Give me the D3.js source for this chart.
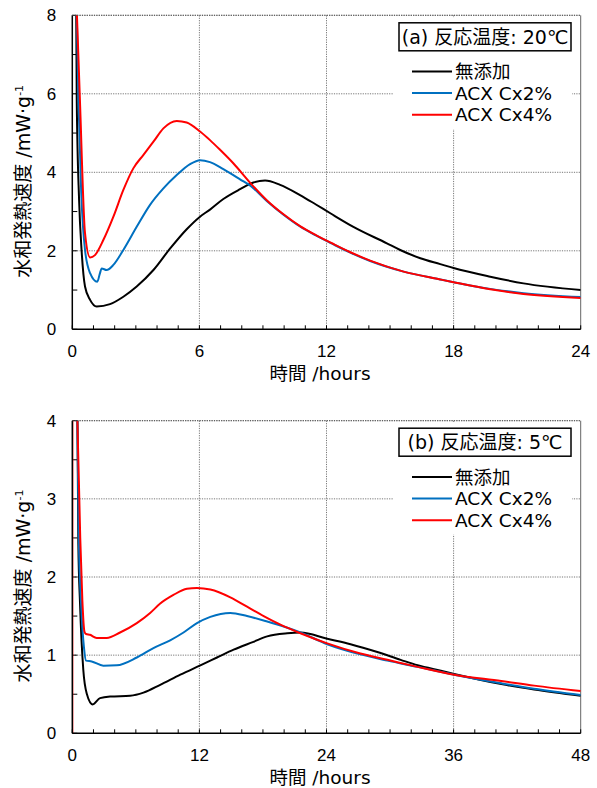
<!DOCTYPE html>
<html lang="ja">
<head>
<meta charset="UTF-8">
<title>水和発熱速度</title>
<script src="https://cdn.jsdelivr.net/npm/d3@7"></script>
<style>
  body { margin:0; background:#fff; }
  text { font-family: "DejaVu Sans", "Noto Sans CJK JP", sans-serif; fill:#000; }
  text.num { font-family: "Liberation Sans", sans-serif; font-size:17px; }
  .grid { stroke:#777; stroke-width:1; stroke-dasharray:1.2,1.2; fill:none; }
  .tick { stroke:#000; stroke-width:1; }
  path.series { fill:none; stroke-width:2; stroke-linejoin:round; }
</style>
</head>
<body>
<script>
// series names and colours
var seriesNames = ["無添加", "ACX Cx2%", "ACX Cx4%"];
var seriesColors = ["#000000", "#0070C0", "#FF0000"];

// tick labels
var aXTicks = [0, 6, 12, 18, 24];
var aYTicks = [0, 2, 4, 6, 8];
var bXTicks = [0, 12, 24, 36, 48];
var bYTicks = [0, 1, 2, 3, 4];

// (a) 20℃  [hours, mW/g]
var aNone = [[0.18,8.6],[0.21,5.84],[0.32,3.3],[0.44,2.0],[0.6,1.09],[0.84,0.75],[1.15,0.58],[1.78,0.64],[2.41,0.83],[3.04,1.09],[3.83,1.51],[4.62,2.06],[5.4,2.55],[6.03,2.87],[6.5,3.05],[7.13,3.32],[7.92,3.57],[8.55,3.74],[9.1,3.79],[9.81,3.68],[10.75,3.42],[11.5,3.18],[12.2,2.95],[13.27,2.61],[14.85,2.19],[15.48,2.02],[16.43,1.81],[17.37,1.66],[18,1.56],[19.73,1.34],[21.3,1.17],[24,1.0]];
var aCx2 = [[0.19,8.6],[0.29,5.84],[0.42,3.5],[0.6,2.02],[0.84,1.43],[1.18,1.21],[1.3,1.42],[1.39,1.55],[1.62,1.51],[1.94,1.64],[2.41,2.02],[3.04,2.61],[3.67,3.17],[4.3,3.59],[4.93,3.93],[5.56,4.21],[6.03,4.31],[6.5,4.26],[7.13,4.08],[7.92,3.82],[8.45,3.64],[9.18,3.27],[9.97,2.92],[10.75,2.62],[11.5,2.39],[12.3,2.17],[13.1,1.96],[14.06,1.74],[15.64,1.47],[17.37,1.27],[18,1.2],[19.73,1.03],[21.3,0.92],[24,0.82]];
var aCx4 = [[0.18,8.6],[0.36,5.84],[0.6,2.45],[0.84,1.83],[1.07,1.89],[1.47,2.28],[1.94,2.87],[2.41,3.55],[2.88,4.1],[3.35,4.44],[3.83,4.78],[4.3,5.12],[4.93,5.31],[5.4,5.27],[6.03,5.04],[6.5,4.82],[6.98,4.57],[7.6,4.23],[8.45,3.7],[9.18,3.29],[9.97,2.93],[10.75,2.63],[11.5,2.4],[12.3,2.18],[13.1,1.97],[14.06,1.75],[15.64,1.47],[17.37,1.27],[18,1.2],[19.73,1.02],[21.3,0.9],[24,0.8]];

// (b) 5℃  [hours, mW/g]
var bNone = [[0.47,4.3],[0.57,2.43],[0.73,1.66],[1.04,0.81],[1.36,0.51],[1.93,0.37],[2.62,0.45],[3.57,0.47],[5.46,0.48],[6.72,0.52],[8.3,0.62],[10.2,0.75],[12.09,0.87],[13.66,0.97],[15.23,1.07],[17.1,1.17],[18.4,1.24],[20.3,1.28],[21.54,1.29],[24.07,1.21],[26.27,1.14],[28.8,1.04],[31.0,0.94],[32.6,0.87],[34.8,0.8],[36.05,0.76],[40.5,0.63],[43.6,0.56],[48,0.48]];
var bCx2 = [[0.45,4.3],[0.6,2.6],[0.85,1.6],[1.1,1.1],[1.3,0.93],[1.83,0.92],[2.93,0.865],[4.2,0.87],[6.09,0.97],[7.66,1.09],[9.24,1.19],[10.5,1.29],[11.77,1.41],[13.03,1.49],[14.92,1.54],[16.5,1.5],[18.4,1.43],[20.3,1.35],[21.54,1.29],[24.07,1.14],[27.2,1.01],[29.75,0.93],[32.6,0.85],[36.05,0.75],[40.5,0.64],[43.6,0.57],[48,0.49]];
var bCx4 = [[0,0],[0.01,5],[0.47,4.05],[0.75,2.5],[0.95,1.7],[1.15,1.3],[1.3,1.27],[1.67,1.26],[2.3,1.22],[3.25,1.22],[4.51,1.29],[6.09,1.41],[7.35,1.54],[8.3,1.66],[9.55,1.77],[10.82,1.85],[11.77,1.86],[13.03,1.84],[14.92,1.74],[16.5,1.62],[18.07,1.5],[19.65,1.39],[21.54,1.28],[24.07,1.15],[27.2,1.02],[29.75,0.94],[32.6,0.85],[36.05,0.75],[40.5,0.67],[43.6,0.61],[48,0.54]];

var W = 597, H = 788;
var svg = d3.select("body").append("svg").attr("width", W).attr("height", H);

var panels = [
  {id:"a", top:15.3, bottom:329.3, xTicks:aXTicks, xMinor:1, yTicks:aYTicks, yMinor:1,
   series:[aNone, aCx2, aCx4], title:"(a) 反応温度: 20℃", legY:71.5},
  {id:"b", top:420.7, bottom:733.3, xTicks:bXTicks, xMinor:2, yTicks:bYTicks, yMinor:0.5,
   series:[bNone, bCx2, bCx4], title:"(b) 反応温度: 5℃", legY:477}
];

var left = 72.3, right = 580.7;

panels.forEach(function(p){
  var xMax = d3.max(p.xTicks), yMax = d3.max(p.yTicks);
  var x = d3.scaleLinear().domain([0, xMax]).range([left, right]);
  var y = d3.scaleLinear().domain([0, yMax]).range([p.bottom, p.top]);
  var g = svg.append("g");

  // grid
  g.selectAll(".gx").data(p.xTicks.slice(1, -1)).enter().append("line")
    .attr("class","grid").attr("x1",x).attr("x2",x).attr("y1",p.top).attr("y2",p.bottom);
  g.selectAll(".gy").data(p.yTicks.slice(1)).enter().append("line")
    .attr("class","grid").attr("y1",y).attr("y2",y).attr("x1",left).attr("x2",right);
  g.append("line").attr("x1",right).attr("x2",right).attr("y1",p.top).attr("y2",p.bottom)
    .attr("stroke","#666").attr("stroke-width",1);

  // minor ticks (inward)
  var xm = d3.range(0, xMax + 0.001, p.xMinor);
  g.selectAll(".tx").data(xm).enter().append("line").attr("class","tick")
    .attr("x1",x).attr("x2",x).attr("y1",p.bottom).attr("y2",p.bottom - 4);
  var ym = d3.range(0, yMax + 0.001, p.yMinor);
  g.selectAll(".ty").data(ym).enter().append("line").attr("class","tick")
    .attr("y1",y).attr("y2",y).attr("x1",left).attr("x2",left + 5);

  // tick labels
  g.selectAll(".lx").data(p.xTicks).enter().append("text").attr("class","num")
    .attr("x",x).attr("y",p.bottom + 28).attr("text-anchor","middle")
    .text(function(d){return d;});
  g.selectAll(".ly").data(p.yTicks).enter().append("text").attr("class","num")
    .attr("x",left - 16).attr("y",function(d){return y(d) + 6;}).attr("text-anchor","end")
    .text(function(d){return d;});

  // series
  var clipId = "clip-" + p.id;
  g.append("clipPath").attr("id", clipId).append("rect")
    .attr("x", left).attr("y", p.top).attr("width", right - left).attr("height", p.bottom - p.top);
  var line = d3.line().x(function(d){return x(d[0]);}).y(function(d){return y(d[1]);})
    .curve(d3.curveMonotoneX);
  g.append("g").attr("clip-path","url(#" + clipId + ")")
    .selectAll("path").data(p.series).enter().append("path")
    .attr("class","series").attr("d", line)
    .attr("stroke", function(d,i){return seriesColors[i];});

  // axis lines
  g.append("line").attr("x1",left).attr("x2",right).attr("y1",p.bottom).attr("y2",p.bottom)
    .attr("stroke","#000").attr("stroke-width",1.5);
  g.append("line").attr("x1",left).attr("x2",left).attr("y1",p.top).attr("y2",p.bottom)
    .attr("stroke","#000").attr("stroke-width",1.5);
  g.append("line").attr("x1",left).attr("x2",right).attr("y1",p.top).attr("y2",p.top)
    .attr("stroke","#555").attr("stroke-width",1).attr("stroke-dasharray","1.2,1.2");

  // legend
  g.append("rect").attr("x",393).attr("y",p.top + 2).attr("width",179).attr("height",112)
    .attr("fill","#fff");
  g.append("rect").attr("x",399).attr("y",p.top + 7.5).attr("width",172).attr("height",28)
    .attr("fill","#fff").attr("stroke","#000").attr("stroke-width",1.5);
  g.append("text").attr("x",485).attr("y",p.top + 28.5).attr("text-anchor","middle")
    .style("font-size","19px").text(p.title);
  var leg = g.selectAll(".leg").data(seriesNames).enter().append("g")
    .attr("transform", function(d,i){return "translate(412," + (p.legY + i * 21.6) + ")";});
  leg.append("line").attr("x1",0).attr("x2",40).attr("y1",0).attr("y2",0)
    .attr("stroke-width",2).attr("stroke",function(d,i){return seriesColors[i];});
  leg.append("text").attr("x",43).attr("y",6.5).style("font-size","18.5px").text(function(d){return d;});

  // axis titles
  g.append("text").attr("x",320).attr("y",p.bottom + 50.5).attr("text-anchor","middle")
    .style("font-size","18.5px").text("時間 /hours");
  var yl = g.append("text").attr("transform","translate(30," + ((p.top + p.bottom)/2 + 9) + ") rotate(-90)")
    .attr("text-anchor","middle").style("font-size","19px");
  yl.append("tspan").text("水和発熱速度 /mW·g");
  yl.append("tspan").attr("dy",-7).style("font-size","11px").text("-1");
});
</script>
</body>
</html>
